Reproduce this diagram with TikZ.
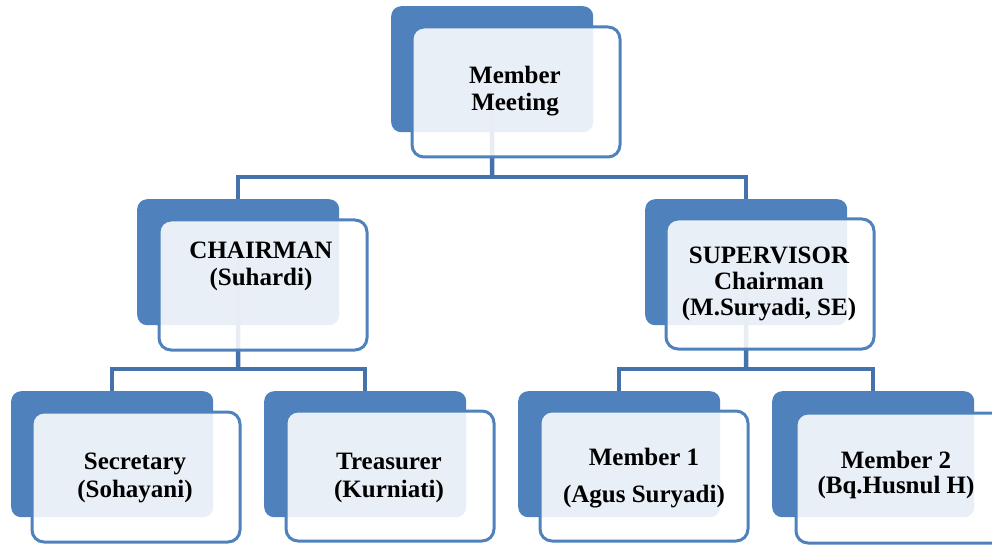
\documentclass[tikz,border=0pt]{standalone}
\usepackage{fontspec}
\setmainfont{Liberation Serif}
\definecolor{boxblue}{RGB}{79,129,189}
\definecolor{linkblue}{RGB}{70,114,172}
\tikzset{
  backbox/.style={anchor=north west, fill=boxblue, rounded corners=10pt, minimum width=202pt, minimum height=126pt, inner sep=0pt},
  frontbox/.style={anchor=north west, draw=boxblue, line width=3pt, fill=white, fill opacity=0.88, rounded corners=12pt, minimum width=208pt, minimum height=130pt, inner sep=0pt},
  label/.style={align=center, font=\fontsize{25}{27}\selectfont\bfseries, text=black, inner sep=0pt},
  conn/.style={draw=linkblue, line width=4.5pt, line join=miter}
}
\begin{document}
\begin{tikzpicture}[x=1pt,y=-1pt]
\useasboundingbox (0,0) rectangle (992,545);
\clip (0,0) rectangle (992,545);
% back boxes
\node[backbox] (topB) at (391,6) {};
\node[backbox] (chB) at (137,199) {};
\node[backbox] (supB) at (645,199) {};
\node[backbox] (secB) at (11,391) {};
\node[backbox] (treB) at (264,391) {};
\node[backbox] (m1B) at (518,391) {};
\node[backbox] (m2B) at (772,391) {};
% connectors
\coordinate (busA) at (492,177);
\coordinate (busB) at (238,369);
\coordinate (busC) at (746,369);
\draw[conn] (topB.center) -- (busA);
\draw[conn] (chB.north) |- (busA) -| (supB.north);
\draw[conn] (chB.center) -- (busB);
\draw[conn] (secB.north) |- (busB) -| (treB.north);
\draw[conn] (supB.center) -- (busC);
\draw[conn] (m1B.north) |- (busC) -| (m2B.north);
% front boxes
\node[frontbox] (topF) at (410.5,25.5) {};
\node[frontbox] (chF) at (157.5,218.5) {};
\node[frontbox] (supF) at (664.5,217.5) {};
\node[frontbox] (secF) at (30.5,410.5) {};
\node[frontbox] (treF) at (284.5,409.5) {};
\node[frontbox] (m1F) at (538.5,409.5) {};
\node[frontbox] (m2F) at (794.5,411.5) {};
% labels
\node[label] (topT) at (515,91) {Member\\Meeting};
\node[label] (chT) at (261,266) {CHAIRMAN\\(Suhardi)};
\node[label, font=\fontsize{25}{26}\selectfont\bfseries] (supT) at (769,284) {SUPERVISOR\\Chairman\\(M.Suryadi, SE)};
\node[label, font=\fontsize{25}{28}\selectfont\bfseries] (secT) at (135,478) {Secretary\\(Sohayani)};
\node[label, font=\fontsize{25}{28}\selectfont\bfseries] (treT) at (389,478) {Treasurer\\(Kurniati)};
\node[label, font=\fontsize{25}{37}\selectfont\bfseries] (m1T) at (644,478) {Member 1\\(Agus Suryadi)};
\node[label, font=\fontsize{25}{25}\selectfont\bfseries] (m2T) at (896,475) {Member 2\\(Bq.Husnul H)};
\end{tikzpicture}
\end{document}
